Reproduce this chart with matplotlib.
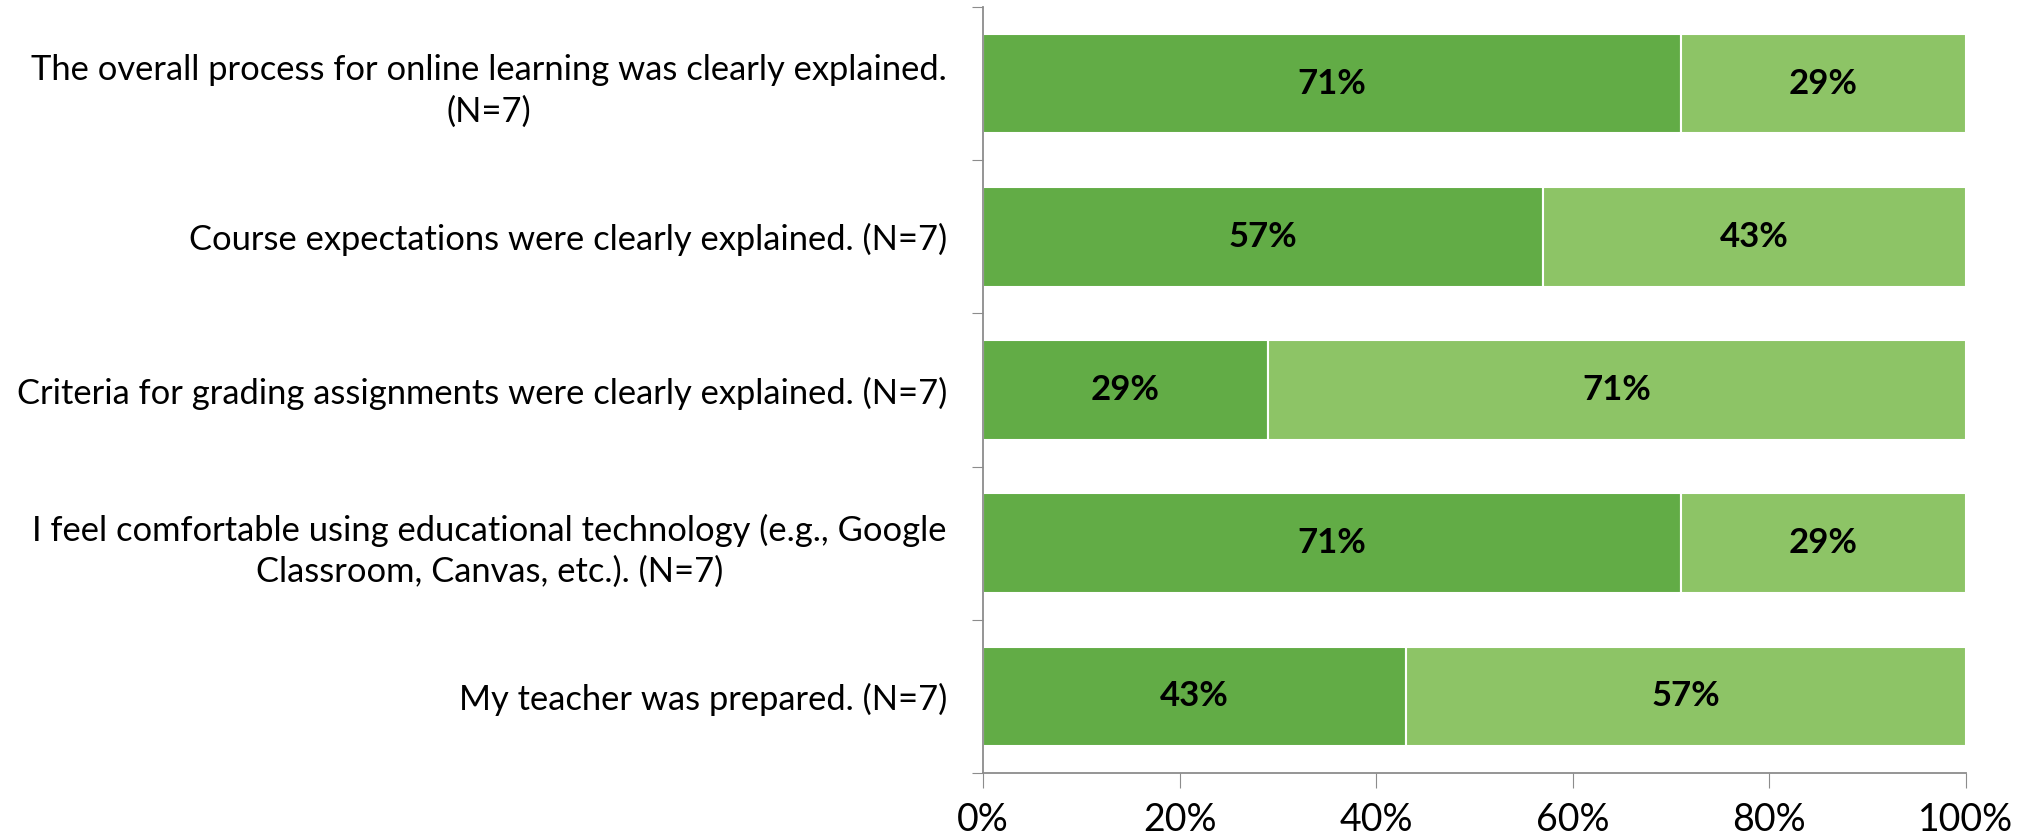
import numpy as np
import matplotlib.pyplot as plt

plt.rcParams['font.family'] = ['Lato', 'DejaVu Sans']

statements = [
    'The overall process for online learning was clearly explained.\n(N=7)',
    'Course expectations were clearly explained. (N=7)',
    'Criteria for grading assignments were clearly explained. (N=7)',
    'I feel comfortable using educational technology (e.g., Google\nClassroom, Canvas, etc.). (N=7)',
    'My teacher was prepared. (N=7)',
]
agree = [71, 57, 29, 71, 43]
strongly_agree = [29, 43, 71, 29, 57]
xticks = [0, 20, 40, 60, 80, 100]

dark_green = '#62ac46'
light_green = '#8dc466'
axis_grey = '#8c8c8c'

fig = plt.figure(figsize=(20.28, 8.39), dpi=100)
ax = fig.add_axes([0.4847, 0.0787, 0.4847, 0.913])

y = np.arange(len(statements))
h = 0.65
ax.barh(y, agree, height=h, color=dark_green, edgecolor='white', linewidth=1.5)
ax.barh(y, strongly_agree, left=agree, height=h, color=light_green,
        edgecolor='white', linewidth=1.5)

for i in range(len(statements)):
    ax.text(agree[i] / 2, y[i], f'{agree[i]}%', ha='center', va='center',
            fontsize=25, fontweight='bold', color='black')
    ax.text(agree[i] + strongly_agree[i] / 2, y[i], f'{strongly_agree[i]}%',
            ha='center', va='center', fontsize=25, fontweight='bold', color='black')

ax.set_xlim(0, 100)
ax.set_ylim(len(statements) - 0.5, -0.5)

ax.set_xticks(xticks)
ax.set_xticklabels([f'{t}%' for t in xticks], fontsize=27)

# category boundaries get the tick marks, labels sit between them
ax.set_yticks(np.arange(len(statements) + 1) - 0.5)
ax.set_yticklabels([])
ax.set_yticks(y, minor=True)
ax.set_yticklabels(statements, minor=True, fontsize=24.8, multialignment='center',
                   linespacing=1.35)

ax.tick_params(axis='y', which='major', length=8, color=axis_grey, direction='out')
ax.tick_params(axis='y', which='minor', length=0, pad=26)
ax.tick_params(axis='x', length=11, color=axis_grey, direction='out', pad=10)

for s in ['top', 'right']:
    ax.spines[s].set_visible(False)
for s in ['left', 'bottom']:
    ax.spines[s].set_color(axis_grey)
    ax.spines[s].set_linewidth(1.3)

fig.savefig('out.png', dpi=100)
